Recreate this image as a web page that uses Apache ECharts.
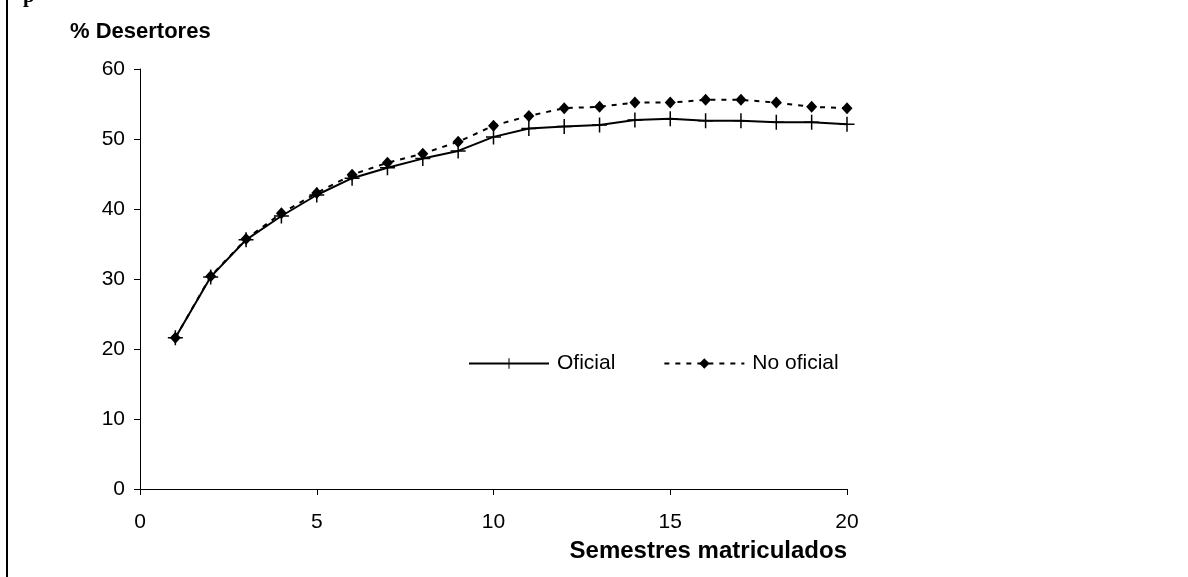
<!DOCTYPE html>
<html>
<head>
<meta charset="utf-8">
<script src="https://cdn.jsdelivr.net/npm/echarts@6/dist/echarts.min.js"></script>
<style>
html,body{margin:0;padding:0;background:#fff;}
#c{width:1188px;height:577px;}
</style>
</head>
<body>
<div id="c"></div>
<script>
var semestres = [1,2,3,4,5,6,7,8,9,10,11,12,13,14,15,16,17,18,19,20];
var oficial =   [21.6,30.3,35.6,39.0,42.0,44.4,45.9,47.2,48.3,50.3,51.5,51.8,52.0,52.7,52.9,52.6,52.6,52.4,52.4,52.1];
var noOficial = [21.6,30.4,35.7,39.4,42.3,44.9,46.6,47.9,49.6,51.9,53.3,54.4,54.6,55.2,55.2,55.6,55.6,55.2,54.6,54.4];
var xTicks = [0,5,10,15,20];
var yTicks = [0,10,20,30,40,50,60];

function pairs(vals){ return semestres.map(function(s,i){ return [s, vals[i]]; }); }

var FONT = 'Liberation Sans';
var plusPath = 'path://M10.8,0H13.2V10.8H24V13.2H13.2V24H10.8V13.2H0V10.8H10.8Z';

var chart = echarts.init(document.getElementById('c'), null, {renderer:'canvas'});
chart.setOption({
  animation:false,
  backgroundColor:'#fff',
  grid:{left:140, right:341, top:69, bottom:88, containLabel:false},
  xAxis:{
    type:'value', min:xTicks[0], max:xTicks[xTicks.length-1], interval:5,
    name:'Semestres matriculados', nameLocation:'end',
    nameTextStyle:{fontFamily:FONT, fontWeight:'bold', fontSize:24, color:'#000', align:'right', verticalAlign:'top', padding:[50,0,0,0]},
    nameGap:0,
    axisLine:{lineStyle:{color:'#000', width:1}},
    axisTick:{show:true, inside:false, length:6, lineStyle:{color:'#000'}},
    axisLabel:{fontFamily:FONT, fontSize:21, color:'#000', margin:23},
    splitLine:{show:false}
  },
  yAxis:{
    type:'value', min:yTicks[0], max:yTicks[yTicks.length-1], interval:10,
    name:'% Desertores', nameLocation:'end',
    nameTextStyle:{fontFamily:FONT, fontWeight:'bold', fontSize:22, color:'#000', align:'left', padding:[0,0,6,-70]},
    nameGap:20,
    axisLine:{show:true, lineStyle:{color:'#000', width:1}},
    axisTick:{show:true, inside:false, length:6, lineStyle:{color:'#000'}},
    axisLabel:{fontFamily:FONT, fontSize:21, color:'#000', margin:15},
    splitLine:{show:false}
  },
  legend:{
    left:463, top:348, itemWidth:80, itemHeight:13, itemGap:48,
    textStyle:{fontFamily:FONT, fontSize:21, color:'#000', padding:[0,0,0,3]},
    data:['Oficial','No oficial']
  },
  series:[
    {
      name:'Oficial', type:'line', data:pairs(oficial),
      symbol:plusPath, symbolSize:15, showSymbol:true,
      lineStyle:{color:'#000', width:2, type:'solid'},
      itemStyle:{color:'#000'}
    },
    {
      name:'No oficial', type:'line', data:pairs(noOficial),
      symbol:'diamond', symbolSize:[11,12], showSymbol:true,
      lineStyle:{color:'#000', width:2, type:[5,6]},
      itemStyle:{color:'#000'}
    }
  ],
  graphic:[
    {type:'rect', shape:{x:6, y:0, width:2, height:577}, style:{fill:'#000'}},
    {type:'text', style:{text:'p', x:23, y:7, verticalAlign:'bottom', font:'bold 21px "Liberation Serif"', fill:'#000'}}
  ]
});
</script>
</body>
</html>
